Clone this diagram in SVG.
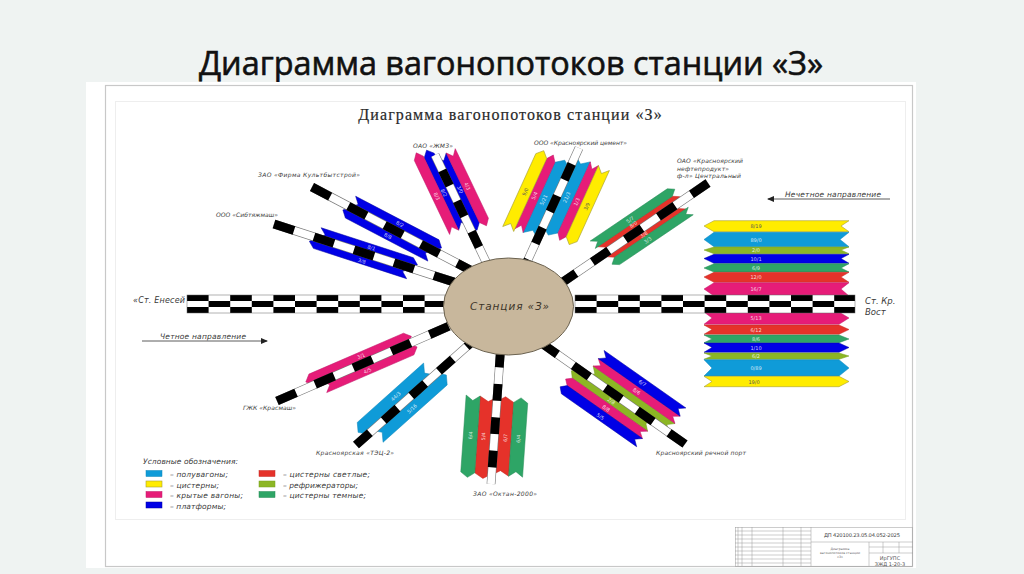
<svg xmlns="http://www.w3.org/2000/svg" width="1024" height="574" viewBox="0 0 1024 574">
<style>
.y{fill:#ffec00;stroke:#a8a030;stroke-width:.6}.b{fill:#0f9bd8;stroke:#0d86ba;stroke-width:.5}.p{fill:#e61c78;stroke:#c01868;stroke-width:.5}.u{fill:#0000e6;stroke:#0000a0;stroke-width:.5}.r{fill:#e5322a;stroke:#c42a24;stroke-width:.5}.o{fill:#8cb624;stroke:#76a01c;stroke-width:.5}.g{fill:#2ea566;stroke:#258a55;stroke-width:.5}
text{font-family:"DejaVu Sans",sans-serif;font-style:italic;fill:#3a3a3a}
.w{font-size:5px;fill:#fff;fill-opacity:.8;text-anchor:middle;font-style:normal}
.wd{font-size:5px;fill:#555;text-anchor:middle;font-style:normal}
.l{font-size:6px}
.lg{font-size:7.5px}
.dir{font-size:7.5px}
.tb{font-size:3.2px;font-style:normal;fill:#666}
.e{stroke:#777;stroke-width:8.800;fill:none}.f{stroke:#fff;stroke-width:7.600;fill:none}.k{stroke:#000;stroke-width:8.800;fill:none}
.tl{stroke:#999;stroke-width:.5;fill:none}
</style>
<defs>
<pattern id="chk" patternUnits="userSpaceOnUse" x="187" y="295" width="43.2" height="18">
<rect width="43.2" height="18" fill="#fff"/><rect width="21.6" height="6" fill="#000"/><rect x="21.6" y="6" width="21.6" height="6" fill="#000"/><rect width="21.6" y="12" height="6" fill="#000"/>
</pattern>
<pattern id="chk2" patternUnits="userSpaceOnUse" x="575" y="295" width="43.2" height="18">
<rect width="43.2" height="18" fill="#fff"/><rect width="21.6" height="6" fill="#000"/><rect x="21.6" y="6" width="21.6" height="6" fill="#000"/><rect width="21.6" y="12" height="6" fill="#000"/>
</pattern>
<marker id="ah" markerWidth="7" markerHeight="6" refX="6" refY="3" orient="auto" markerUnits="userSpaceOnUse"><path d="M0 0L7 3L0 6Z" fill="#222"/></marker>
</defs>
<rect width="1024" height="574" fill="#eff3f2"/>
<g id="title"><text x="511" y="75" text-anchor="middle" style="font-family:'Open Sans',sans-serif;font-style:normal;font-size:32.4px;fill:#111;stroke:#111;stroke-width:.6">Диаграмма вагонопотоков станции «З»</text></g>
<rect x="86" y="82" width="830" height="486" fill="#fff"/>
<rect x="105.500" y="85.500" width="807" height="481" fill="none" stroke="#c8c8c8" stroke-width="1.200"/>
<rect x="115.500" y="101.500" width="790" height="418" fill="none" stroke="#eeeeee"/>
<g id="heading"><text x="510.500" y="120" text-anchor="middle" style="font-family:'Liberation Serif',serif;font-style:normal;font-size:16px;letter-spacing:1.1px;fill:#2a2a2a;stroke:#2a2a2a;stroke-width:.2">Диаграмма вагонопотоков станции «З»</text></g>

<g id="node-firma" transform="translate(312 187) rotate(27.6)">
<polygon class="u" points="43,-12 137,-12 143,-6 137,0 43,0 49,-6"/><polygon class="u" points="44,0 137,0 131,6 137,12 44,12 38,6"/>
<text class="w" x="95" y="-6">8/2</text><text class="w" x="90" y="10">8/8</text></g>
<g id="node-sib" transform="translate(274 224) rotate(18)">
<polygon class="u" points="46,-11 143,-11 149,-5.500 143,0 46,0 52,-5.500"/><polygon class="u" points="45,0 143,0 137,5.500 143,11 45,11 39,5.500"/>
<text class="w" x="100" y="-5.800">8/1</text><text class="w" x="95" y="9.800">3/8</text></g>
<g id="node-zmz" transform="translate(435 155) rotate(64.5)">
<polygon class="u" points="-2,0 78,0 72,5.500 78,11 -2,11 -8,5.500"/><polygon class="p" points="-4,11 78,11 72,16 78,21 -4,21 -10,16"/>
<polygon class="u" points="3,-11 80,-11 86,-5.500 80,0 3,0 9,-5.500"/><polygon class="p" points="3,-21 80,-21 86,-16 80,-11 3,-11 9,-16"/>
<text class="w" x="38" y="10">8/2</text><text class="w" x="38" y="18">8/3</text><text class="w" x="42" y="-6">3/0</text><text class="w" x="42" y="-14">4/3</text></g>
<g id="node-cement" transform="translate(579 148) rotate(114.4)">
<polygon class="b" points="23,0 100,0 94,8 100,16 23,16 17,8"/><polygon class="p" points="23,16 100,16 94,20.500 100,25 23,25 17,20.500"/><polygon class="y" points="23,25 103,25 97,31 103,37 23,37 17,31"/>
<polygon class="b" points="8,-16 86,-16 92,-8 86,0 8,0 14,-8"/><polygon class="p" points="8,-25 86,-25 92,-20.500 86,-16 8,-16 14,-20.500"/><polygon class="y" points="8,-37 86,-37 92,-31 86,-25 8,-25 14,-31"/>
<g transform="rotate(180)"><text class="w" x="-62" y="-9">5/21</text><text class="w" x="-62" y="-19">5/4</text><text class="wd" x="-62" y="-29">9/0</text><text class="w" x="-50" y="11">21/3</text><text class="w" x="-50" y="22">1/3</text><text class="wd" x="-50" y="33">3/9</text></g></g>
<g id="node-neft" transform="translate(708 183) rotate(145.900)">
<polygon class="r" points="37,0 127,0 121,4.500 127,9 37,9 31,4.500"/><polygon class="g" points="37,9 130,9 124,13.500 130,18 37,18 31,13.500"/>
<polygon class="r" points="33,-9 119,-9 125,-4.500 119,0 33,0 39,-4.500"/><polygon class="g" points="30,-18 119,-18 125,-13.500 119,-9 30,-9 36,-13.500"/>
<g transform="rotate(180)"><text class="w" x="-85" y="-6">8/0</text><text class="w" x="-85" y="-11.500">5/7</text><text class="w" x="-82" y="8.500">3/8</text><text class="w" x="-82" y="15.500">3/3</text></g></g>
<g id="node-gzk" transform="translate(277 401) rotate(-23.4)">
<polygon class="p" points="40,-12 143,-12 149,-6 143,0 40,0 34,-6"/><polygon class="p" points="49,0 144,0 150,6 144,12 49,12 55,6"/>
<text class="w" x="95" y="-6">3/1</text><text class="w" x="95" y="10">4/5</text></g>
<g id="node-tec" transform="translate(356 445) rotate(-41.800)">
<polygon class="b" points="16,-16 105,-16 99,-8 105,0 16,0 10,-8"/><polygon class="b" points="22,0 108,0 114,8 108,16 22,16 28,8"/>
<text class="w" x="62" y="-8">44/3</text><text class="w" x="66" y="12">5/16</text></g>
<g id="node-oktan" transform="translate(491 484) rotate(-86)">
<polygon class="r" points="10,-17 87,-17 82,-8.500 87,0 10,0 5,-8.500"/><polygon class="g" points="10,-31 87,-31 82,-24 87,-17 10,-17 5,-24"/>
<polygon class="r" points="9,0 83,0 88,8.500 83,17 9,17 14,8.500"/><polygon class="g" points="9,17 83,17 88,24 83,31 9,31 14,24"/>
<text class="w" x="47" y="-9">5/4</text><text class="w" x="47" y="-22">6/4</text><text class="w" x="47" y="13">6/7</text><text class="w" x="47" y="26">6/4</text></g>
<g id="node-port" transform="translate(685 444) rotate(215.100)">
<polygon class="o" points="20,0 120,0 114,5.500 120,11 20,11 26,5.500"/><polygon class="p" points="20,11 120,11 114,15.500 120,20 20,20 26,15.500"/><polygon class="u" points="20,20 120,20 114,25 120,30 20,30 26,25"/>
<polygon class="o" points="38,-11 130,-11 135,-5.500 130,0 38,0 44,-5.500"/><polygon class="p" points="38,-20 130,-20 135,-15.500 130,-11 38,-11 44,-15.500"/><polygon class="u" points="38,-30 130,-30 135,-25 130,-20 38,-20 44,-25"/>
<g transform="rotate(180)"><text class="w" x="-70" y="-23.500">6/7</text><text class="w" x="-70" y="-13.500">8/6</text><text class="w" x="-85" y="9">2/8</text><text class="w" x="-85" y="18">8/8</text><text class="w" x="-85" y="28">5/5</text></g></g>

<g id="node-stack">
<polygon class="y" points="704,226 714,220.700 849,220.700 841,226 849,231.700 714,231.700"/><text class="wd" x="756" y="228">8/19</text>
<polygon class="b" points="704,239.500 714,232.300 849,232.300 840,239.500 849,246.700 714,246.700"/><text class="w" x="756" y="241.500">89/0</text>
<polygon class="o" points="704,250 714,247 849,247 841,250 849,253.700 714,253.700"/><text class="w" x="756" y="252">2/0</text>
<polygon class="u" points="704,258.500 714,254.300 849,254.300 841,258.500 849,263.300 714,263.300"/><text class="w" x="756" y="260.500">10/1</text>
<polygon class="g" points="704,268 714,263.700 849,263.700 841,268 849,272 714,272"/><text class="w" x="756" y="270">6/9</text>
<polygon class="r" points="704,277 714,272.300 849,272.300 841,277 849,282.300 714,282.300"/><text class="w" x="756" y="279">12/0</text>
<polygon class="p" points="704,289 714,282.700 849,282.700 841,289 849,296 714,296"/><text class="w" x="756" y="291">16/7</text>
<polygon class="p" points="704,312 839,312 849,318 839,324.300 704,324.300 712,318"/><text class="w" x="756" y="320">5/13</text>
<polygon class="r" points="704,325 839,325 849,329.500 839,334.300 704,334.300 712,329.500"/><text class="w" x="756" y="331.500">6/12</text>
<polygon class="g" points="704,335 839,335 849,339 839,342.700 704,342.700 712,339"/><text class="w" x="756" y="341">8/6</text>
<polygon class="u" points="704,343 839,343 849,347.500 839,352.300 704,352.300 712,347.500"/><text class="w" x="756" y="349.500">1/10</text>
<polygon class="o" points="704,353 839,353 849,356 839,359.300 704,359.300 712,356"/><text class="w" x="756" y="358">6/2</text>
<polygon class="b" points="704,359.700 839,359.700 849,368 839,376 704,376 712,368"/><text class="w" x="756" y="370">0/89</text>
<polygon class="y" points="704,376.300 839,376.300 849,381.500 839,386.700 704,386.700 712,381.500"/><text class="wd" x="754" y="383.500">19/0</text>
</g>

<g id="connectors">
<rect x="187" y="295" width="258" height="18" fill="url(#chk)" stroke="#666" stroke-width=".5"/>
<rect x="575" y="295" width="280" height="18" fill="url(#chk2)" stroke="#666" stroke-width=".5"/>
<line class="e" x1="312" y1="187" x2="472" y2="271"/><line class="f" x1="312" y1="187" x2="472" y2="271"/><line class="k" x1="312" y1="187" x2="472" y2="271" stroke-dasharray="20.500 20.500"/>
<line class="e" x1="274" y1="224" x2="460" y2="284"/><line class="f" x1="274" y1="224" x2="460" y2="284"/><line class="k" x1="274" y1="224" x2="460" y2="284" stroke-dasharray="21 21"/>
<line class="e" x1="435" y1="155" x2="488" y2="266"/><line class="f" x1="435" y1="155" x2="488" y2="266"/><line class="k" x1="435" y1="155" x2="488" y2="266" stroke-dasharray="17 17" stroke-dashoffset="17"/>
<line class="e" x1="579" y1="148" x2="526" y2="264"/><line class="f" x1="579" y1="148" x2="526" y2="264"/><line class="k" x1="579" y1="148" x2="526" y2="264" stroke-dasharray="17.500 17.500" stroke-dashoffset="17.500"/>
<line class="e" x1="708" y1="183" x2="560" y2="284"/><line class="f" x1="708" y1="183" x2="560" y2="284"/><line class="k" x1="708" y1="183" x2="560" y2="284" stroke-dasharray="20 20"/>
<line class="e" x1="277" y1="401" x2="454" y2="324"/><line class="f" x1="277" y1="401" x2="454" y2="324"/><line class="k" x1="277" y1="401" x2="454" y2="324" stroke-dasharray="20.800 20.800"/>
<line class="e" x1="356" y1="445" x2="473" y2="341"/><line class="f" x1="356" y1="445" x2="473" y2="341"/><line class="k" x1="356" y1="445" x2="473" y2="341" stroke-dasharray="18.500 18.500"/>
<line class="e" x1="491" y1="484" x2="500.500" y2="350"/><line class="f" x1="491" y1="484" x2="500.500" y2="350"/><line class="k" x1="491" y1="484" x2="500.500" y2="350" stroke-dasharray="16.700 16.700" stroke-dashoffset="16.700"/>
<line class="e" x1="685" y1="444" x2="542" y2="343.500"/><line class="f" x1="685" y1="444" x2="542" y2="343.500"/><line class="k" x1="685" y1="444" x2="542" y2="343.500" stroke-dasharray="19.500 19.500"/>
<line x1="890" y1="199" x2="768" y2="199" stroke="#333" stroke-width=".8" marker-end="url(#ah)"/>
<line x1="142" y1="341" x2="267" y2="341" stroke="#333" stroke-width=".8" marker-end="url(#ah)"/>
</g>

<g id="node-station"><ellipse cx="508.500" cy="306.500" rx="65" ry="48.500" fill="#c8b79c" stroke="#6b6250" stroke-width="1"/>
<text x="510" y="310" text-anchor="middle" style="font-size:10.500px;letter-spacing:.9px;fill:#3c3428">Станция «З»</text></g>

<g id="labels">
<text class="l" x="258" y="177" textLength="102">ЗАО «Фирма Культбытстрой»</text>
<text class="l" x="216" y="216.500" textLength="62">ООО «Сибтяжмаш»</text>
<text class="l" x="413" y="148" textLength="40">ОАО «ЖМЗ»</text>
<text class="l" x="534" y="144.500" textLength="93">ООО «Красноярский цемент»</text>
<text class="l" x="677" y="163" textLength="66">ОАО «Красноярский</text>
<text class="l" x="677" y="170.500" textLength="52">нефтепродукт»</text>
<text class="l" x="677" y="178" textLength="64">ф-л» Центральный</text>
<text class="dir" x="785" y="197" textLength="96">Нечетное направление</text>
<text class="dir" x="160" y="339" textLength="86">Четное направление</text>
<text x="133" y="303" textLength="52" style="font-size:8px">«Ст. Енесей</text>
<text x="865" y="304" style="font-size:8.500px">Ст. Кр.</text>
<text x="865" y="315" style="font-size:8.500px">Вост</text>
<text class="l" x="243" y="410" textLength="53">ГЖК «Красмаш»</text>
<text class="l" x="316" y="454.500" textLength="78">Красноярская «ТЭЦ-2»</text>
<text class="l" x="473" y="496" textLength="64">ЗАО «Октан-2000»</text>
<text class="l" x="656" y="454.500" textLength="90">Красноярский речной порт</text>
</g>

<g id="legend">
<text class="lg" x="143" y="464" textLength="95">Условные обозначения:</text>
<rect class="b" x="146" y="470.500" width="16" height="6"/><text class="lg" x="170" y="476.500" textLength="58">– полувагоны;</text>
<rect class="y" x="146" y="481" width="16" height="6"/><text class="lg" x="170" y="487.500" textLength="49">– цистерны;</text>
<rect class="p" x="146" y="491.500" width="16" height="6"/><text class="lg" x="170" y="498" textLength="73">– крытые вагоны;</text>
<rect class="u" x="146" y="502" width="16" height="6"/><text class="lg" x="170" y="508.500" textLength="56">– платформы;</text>
<rect class="r" x="259" y="470.500" width="16" height="6"/><text class="lg" x="283" y="476.500" textLength="87">– цистерны светлые;</text>
<rect class="o" x="259" y="481" width="16" height="6"/><text class="lg" x="283" y="487.500" textLength="75">– рефрижераторы;</text>
<rect class="g" x="259" y="491.500" width="16" height="6"/><text class="lg" x="283" y="498" textLength="83">– цистерны темные;</text>
</g>

<g id="title-block">
<rect class="tl" x="735.500" y="527.500" width="177" height="39" stroke-width=".7"/>
<path class="tl" d="M738 527V566M742 527V566M752 527V566M783 527V566M801 527V566M811 527V566M811 542H913M735 531H811M735 535H811M735 539H811M735 543H811M735 547H811M735 551H811M735 555H811M735 559H811M735 563H811M869 542V566M869 547H913M869 553H913M883 542V553M899 542V553"/>
<text x="824" y="537" textLength="76" style="font-size:5.200px;font-style:normal;fill:#444">ДП 420100.23.05.04.052-2025</text>
<text class="tb" x="840" y="550" text-anchor="middle">Диаграмма</text>
<text class="tb" x="840" y="554" text-anchor="middle">вагонопотоков станции</text>
<text class="tb" x="840" y="558" text-anchor="middle">«З»</text>
<text x="890" y="560" text-anchor="middle" style="font-size:5px;font-style:normal;fill:#555">ИрГУПС</text>
<text x="890" y="565.500" text-anchor="middle" style="font-size:5px;font-style:normal;fill:#555">ЗЖД 1-20-3</text>
</g>
</svg>
